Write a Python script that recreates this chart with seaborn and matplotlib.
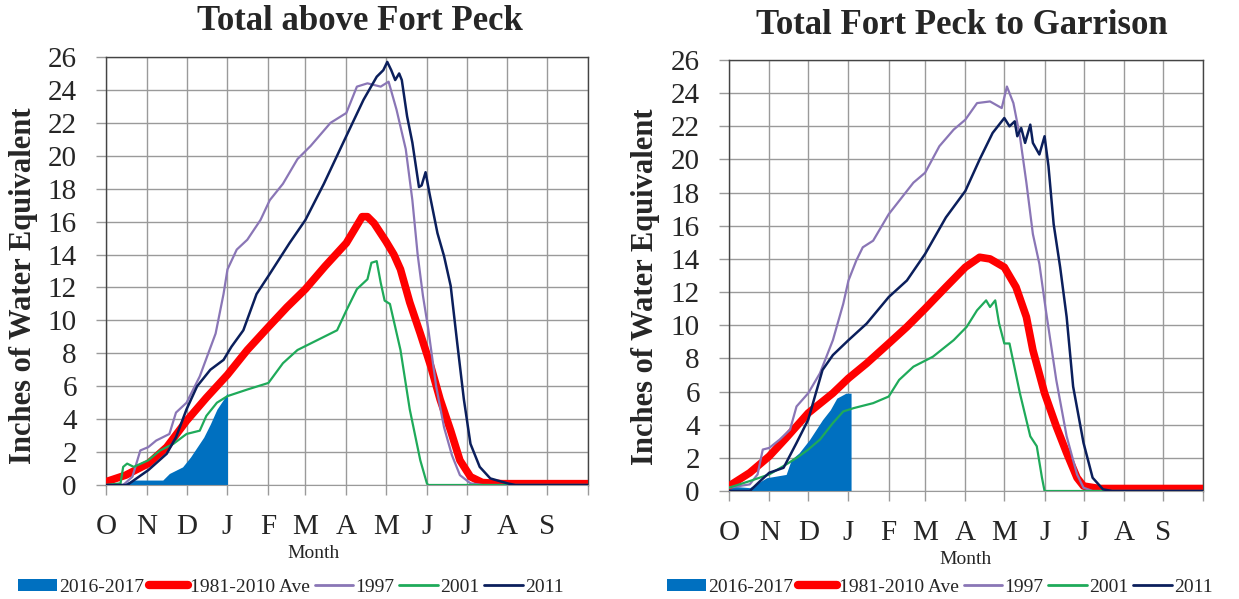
import numpy as np
import pandas as pd
import seaborn as sns
import matplotlib.pyplot as plt
from matplotlib.patches import Patch
from matplotlib.lines import Line2D

sns.set_style("white")
plt.rcParams['font.family'] = ['Liberation Serif', 'DejaVu Serif']

# water year: day 0 = Oct 1
month_days = [0, 31, 61, 92, 123, 151, 182, 212, 243, 273, 304, 334, 365]
month_labels = ["O", "N", "D", "J", "F", "M", "A", "M", "J", "J", "A", "S", ""]

# ---- Total above Fort Peck ----
fp_days_17 = [0, 13, 21, 32, 43, 48, 58, 64, 69, 74, 79, 84, 89, 92]
fp_2017 = [0, 0.1, 0.3, 0.3, 0.3, 0.7, 1.1, 1.7, 2.3, 2.9, 3.7, 4.6, 5.2, 5.6]

fp_days_ave = [0, 15, 32, 46, 61, 76, 92, 107, 123, 137, 151, 166, 182, 188, 194, 198,
               203, 212, 218, 223, 230, 238, 246, 253, 261, 268, 276, 285, 300, 365]
fp_ave = [0.2, 0.6, 1.3, 2.3, 3.9, 5.3, 6.7, 8.2, 9.6, 10.8, 11.9, 13.3, 14.7, 15.5, 16.3, 16.3,
          15.9, 14.8, 14.0, 13.1, 11.1, 9.2, 7.2, 5.2, 3.3, 1.5, 0.5, 0.15, 0.08, 0.08]

fp_days_97 = [0, 13, 20, 23, 26, 32, 38, 48, 53, 61, 71, 83, 89, 92, 99, 107, 117, 124, 134,
              145, 155, 170, 182, 190, 198, 208, 214, 220, 227, 232, 236, 240, 244, 250, 256,
              262, 268, 276, 285, 365]
fp_1997 = [0, 0, 0.5, 1.3, 2.1, 2.3, 2.7, 3.1, 4.4, 5.0, 6.6, 9.2, 11.6, 13.1, 14.3, 14.9, 16.1,
           17.3, 18.3, 19.8, 20.6, 22.0, 22.6, 24.2, 24.4, 24.2, 24.5, 22.8, 20.4, 17.3, 14.0,
           11.5, 9.5, 6.0, 3.5, 1.8, 0.6, 0.1, 0, 0]

fp_days_01 = [0, 11, 13, 16, 21, 32, 41, 51, 61, 71, 76, 84, 92, 107, 123, 134, 145, 160, 175,
              182, 190, 198, 201, 205, 208, 211, 215, 223, 230, 238, 243, 244, 365]
fp_2001 = [0, 0.1, 1.1, 1.3, 1.1, 1.5, 2.1, 2.5, 3.1, 3.3, 4.2, 5.0, 5.4, 5.8, 6.2, 7.4, 8.2,
           8.8, 9.4, 10.6, 11.9, 12.5, 13.5, 13.6, 12.3, 11.2, 11.0, 8.2, 4.6, 1.5, 0.1, 0, 0]

fp_days_11 = [0, 16, 32, 46, 53, 61, 69, 79, 89, 95, 104, 114, 123, 139, 151, 165, 182, 195,
              205, 210, 213, 216, 219, 222, 224, 228, 232, 237, 239, 242, 245, 251, 256, 261,
              266, 271, 276, 283, 291, 304, 310, 365]
fp_2011 = [0, 0, 0.9, 1.9, 2.9, 4.6, 6.0, 7.0, 7.6, 8.4, 9.4, 11.6, 12.7, 14.7, 16.1, 18.3, 21.2,
           23.4, 24.8, 25.2, 25.7, 25.2, 24.6, 25.0, 24.6, 22.4, 20.8, 18.1, 18.2, 19.0, 17.7,
           15.3, 13.9, 12.1, 8.6, 5.2, 2.5, 1.1, 0.4, 0.1, 0, 0]

# ---- Total Fort Peck to Garrison ----
gar_days_17 = [0, 16, 29, 44, 48, 54, 62, 67, 72, 78, 83, 90, 94]
gar_2017 = [0.3, 0.2, 0.8, 1.0, 1.9, 2.3, 3.1, 3.7, 4.3, 4.9, 5.6, 5.9, 5.9]

gar_days_ave = [0, 16, 31, 44, 61, 80, 92, 106, 123, 137, 151, 167, 182, 193, 201, 212, 221,
                229, 234, 243, 252, 260, 268, 273, 285, 365]
gar_ave = [0.3, 1.1, 2.1, 3.2, 4.7, 5.9, 6.8, 7.7, 8.9, 9.9, 11.0, 12.3, 13.5, 14.1, 14.0, 13.5,
           12.3, 10.5, 8.5, 5.9, 3.9, 2.3, 0.8, 0.3, 0.15, 0.15]

gar_days_97 = [0, 16, 22, 26, 31, 39, 47, 52, 61, 70, 80, 88, 92, 98, 103, 111, 123, 131, 142,
               151, 162, 173, 182, 191, 201, 210, 214, 219, 224, 229, 234, 239, 244, 252, 260,
               268, 273, 280, 365]
gar_1997 = [0.2, 0.4, 1.0, 2.5, 2.6, 3.1, 3.7, 5.1, 5.9, 7.1, 9.1, 11.3, 12.7, 13.9, 14.7, 15.1,
            16.7, 17.5, 18.6, 19.2, 20.8, 21.8, 22.4, 23.4, 23.5, 23.1, 24.4, 23.4, 21.4, 18.6,
            15.5, 13.7, 10.9, 6.7, 3.3, 1.0, 0.2, 0, 0]

gar_days_01 = [0, 16, 31, 44, 54, 61, 70, 80, 88, 96, 111, 123, 131, 142, 157, 173, 183, 191,
               198, 201, 205, 208, 212, 216, 224, 232, 237, 241, 243, 365]
gar_2001 = [0.2, 0.6, 1.0, 1.6, 2.1, 2.5, 3.1, 4.1, 4.8, 5.0, 5.3, 5.7, 6.7, 7.5, 8.1, 9.1, 9.9,
            10.9, 11.5, 11.1, 11.5, 10.1, 8.9, 8.9, 5.9, 3.3, 2.7, 0.8, 0, 0]

gar_days_11 = [0, 16, 24, 31, 42, 52, 61, 72, 80, 92, 106, 123, 137, 151, 167, 182, 193, 203,
               212, 216, 220, 222, 225, 228, 232, 234, 239, 243, 246, 250, 255, 260, 265, 273,
               280, 288, 295, 365]
gar_2011 = [0, 0, 0.6, 1.1, 1.4, 2.9, 4.3, 7.3, 8.2, 9.1, 10.1, 11.7, 12.7, 14.3, 16.5, 18.1,
            20.0, 21.6, 22.5, 22.0, 22.3, 21.4, 21.9, 21.0, 22.1, 21.0, 20.3, 21.4, 19.6, 16.1,
            13.5, 10.5, 6.3, 2.9, 0.8, 0.1, 0, 0]

labels = ["2016-2017", "1981-2010 Ave", "1997", "2001", "2011"]
c_fill = "#0070C0"
c_ave = "#FF0000"
c_97 = "#8A76B6"
c_01 = "#1FAA5A"
c_11 = "#0B1F5C"
grid_c = "#9a9a9a"


def draw_panel(ax, title, title_xy, fill_x, fill_y, ave, y97, y01, y11, month_x, legend_x):
    ax.fill_between(fill_x, fill_y, color=c_fill, lw=0, zorder=2)
    sns.lineplot(x=ave[0], y=ave[1], ax=ax, color=c_ave, lw=5.5, zorder=3)
    sns.lineplot(x=y97[0], y=y97[1], ax=ax, color=c_97, lw=1.6, zorder=4)
    sns.lineplot(x=y01[0], y=y01[1], ax=ax, color=c_01, lw=1.6, zorder=4)
    sns.lineplot(x=y11[0], y=y11[1], ax=ax, color=c_11, lw=1.8, zorder=5)

    ax.set_xlim(0, 365)
    ax.set_ylim(0, 26)
    ax.set_xticks(month_days)
    ax.set_xticklabels(month_labels)
    ax.set_yticks(range(0, 27, 2))
    ax.grid(True, color=grid_c, lw=1.0)
    ax.set_axisbelow(True)
    ax.tick_params(axis="both", direction="out", length=7, width=1, color=grid_c,
                   labelsize=21, pad=14, bottom=True, left=True)
    for side in ["left", "right", "top"]:
        ax.spines[side].set_color("#444444")
        ax.spines[side].set_linewidth(1.0)
    ax.spines["bottom"].set_color(grid_c)

    ax.text(title_xy[0], title_xy[1], title, transform=ax.figure.transFigure,
            fontsize=25, fontweight="bold", ha="center", va="center")
    ax.set_ylabel("Inches of Water Equivalent", fontsize=22, fontweight="bold", va="center")
    ax.set_xlabel("Month", fontsize=14, va="center")
    ax.xaxis.set_label_coords(month_x, -0.16)

    handles = [Patch(facecolor=c_fill, edgecolor="none"),
               Line2D([], [], color=c_ave, lw=6, solid_capstyle="round"),
               Line2D([], [], color=c_97, lw=2),
               Line2D([], [], color=c_01, lw=2),
               Line2D([], [], color=c_11, lw=2)]
    ax.legend(handles, labels, loc="center", bbox_to_anchor=(legend_x, 0.02),
              bbox_transform=ax.figure.transFigure, ncol=5, frameon=False, fontsize=14,
              handlelength=2.0, handleheight=0.6, handletextpad=0.1, columnspacing=0.25,
              borderpad=0.1)


fig = plt.figure(figsize=(12.39, 5.99), dpi=100)
ax1 = fig.add_axes([106 / 1239, 1 - 485 / 599, 482 / 1239, 428 / 599])
ax2 = fig.add_axes([729 / 1239, 1 - 491 / 599, 474 / 1239, 431 / 599])

draw_panel(ax1, "Total above Fort Peck", (360 / 1239, 1 - 22 / 599), fp_days_17, fp_2017,
           (fp_days_ave, fp_ave), (fp_days_97, fp_1997), (fp_days_01, fp_2001),
           (fp_days_11, fp_2011), 0.43, 291 / 1239)
ax1.yaxis.set_label_coords((24 - 106) / 482, (485 - 286) / 428)

draw_panel(ax2, "Total Fort Peck to Garrison", (962 / 1239, 1 - 25 / 599), gar_days_17, gar_2017,
           (gar_days_ave, gar_ave), (gar_days_97, gar_1997), (gar_days_01, gar_2001),
           (gar_days_11, gar_2011), 0.5, 940 / 1239)
ax2.yaxis.set_label_coords((645 - 729) / 474, (491 - 287) / 431)

fig.savefig("out.png", dpi=100)
